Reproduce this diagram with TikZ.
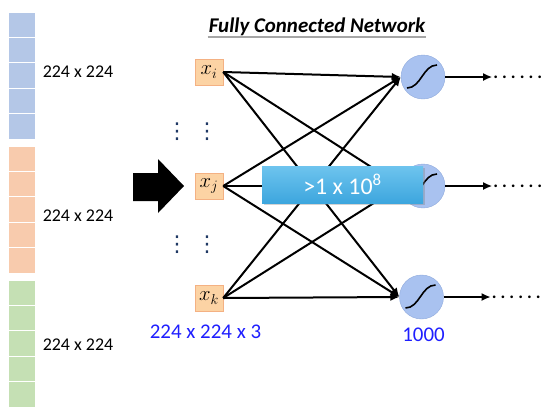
\documentclass[tikz,border=0pt]{standalone}
\usepackage{fontspec}
\setmainfont{Carlito}
\newfontfamily\symfont{DejaVu Sans}
\usepackage{tikz}
\usetikzlibrary{positioning,arrows.meta,calc,shadows}

\definecolor{cellblue}{HTML}{B4C7E7}
\definecolor{cellorange}{HTML}{F8CBAD}
\definecolor{cellgreen}{HTML}{C5E0B4}
\definecolor{inputfill}{HTML}{FCD3A4}
\definecolor{inputline}{HTML}{F4B183}
\definecolor{neuronfill}{HTML}{A9C2F0}
\definecolor{neuronline}{HTML}{8FAADC}
\definecolor{boxtop}{HTML}{6EC4EE}
\definecolor{boxbottom}{HTML}{3DA6DE}
\definecolor{labelblue}{HTML}{1F1FFF}
\definecolor{dotnavy}{HTML}{1F3864}

\newcommand{\rowdots}{\textbf{.\kern4bp.\kern4bp.\kern4bp.\kern4bp.\kern4bp.}}

\begin{document}
\begin{tikzpicture}[
    x=1bp, y=-1bp,
    inbox/.style={draw=inputline, fill=inputfill, minimum width=28bp, minimum height=26bp,
                inner sep=0pt, font=\fontsize{22}{24}\selectfont},
    neuron/.style={circle, draw=neuronline, fill=neuronfill, minimum size=44bp, inner sep=0pt,
                path picture={\draw[black, line width=1.6bp]
                    ($(path picture bounding box.center)+(-16,11)$) .. controls +(14,0) and +(-14,0)
                    .. ($(path picture bounding box.center)+(14,-12)$);}},
    link/.style={-{Latex[length=9bp,width=8bp]}, line width=2bp},
    sizelbl/.style={font=\fontsize{18}{20}\selectfont},
    bluelbl/.style={text=labelblue, font=\fontsize{21}{24}\selectfont},
    vdot/.style={text=dotnavy, inner sep=0pt, font=\symfont\fontsize{22}{24}\selectfont}
]
\useasboundingbox (0,0) rectangle (558,412);

% image channels
\foreach \c/\ys in {cellblue/12, cellorange/146, cellgreen/280} {
    \foreach \k in {0,...,4} {
        \filldraw[fill=\c, draw=white, line width=1bp] (8,{\ys+25.4*\k}) rectangle ++(27,25.4);
    }
}
\node[sizelbl] (lblue)   at (78,72)  {224 x 224};
\node[sizelbl] (lorange) at (78,216) {224 x 224};
\node[sizelbl] (lgreen)  at (78,345) {224 x 224};

\fill (133,173) -- (158,173) -- (158,159) -- (184,186) -- (158,213) -- (158,201) -- (133,201) -- cycle;

\node[font=\fontsize{21}{24}\selectfont\bfseries\itshape, inner sep=1bp] (title) at (317,27)
    {Fully Connected Network};
\draw[gray!70, line width=1.5bp] (title.south west) -- (title.south east);

% inputs
\node[inbox] (xi) at (209,72)  {$x_i$};
\node[inbox] (xj) at (209,186) {$x_j$};
\node[inbox] (xk) at (209,298) {$x_k$};
\foreach \nm/\x/\y in {vi1/177/132, vi2/207/132, vk1/177/245, vk2/207/245} {
    \node[vdot] (\nm) at (\x,\y) {⋮};
}

% outputs
\node[neuron] (o1) at (423,77)  {};
\node[neuron] (o2) at (423,186) {};
\node[neuron] (o3) at (421.5,297) {};
\foreach \s in {xi,xj,xk} {
    \foreach \t in {o1,o2,o3} {
        \draw[link] (\s.east) -- (\t.west);
    }
}
\foreach \t in {o1,o2,o3} {
    \draw[link] (\t.east) -- ++(47,0) coordinate (e\t);
    \node[anchor=west, inner sep=1bp, font=\fontsize{18}{20}\selectfont] (d\t) at (e\t) {\rowdots};
}

\node[top color=boxtop, bottom color=boxbottom,
      drop shadow={shadow xshift=1.5bp, shadow yshift=-1.5bp, opacity=.35},
      minimum width=161bp, minimum height=37bp, text=white,
      font=\fontsize{24}{28}\selectfont] (count) at (342.5,184.5) {>1 x 10\textsuperscript{8}};

\node[bluelbl] (inlbl)  at (205.5,332) {224 x 224 x 3};
\node[bluelbl] (outlbl) at (423.5,335) {1000};
\end{tikzpicture}
\end{document}
